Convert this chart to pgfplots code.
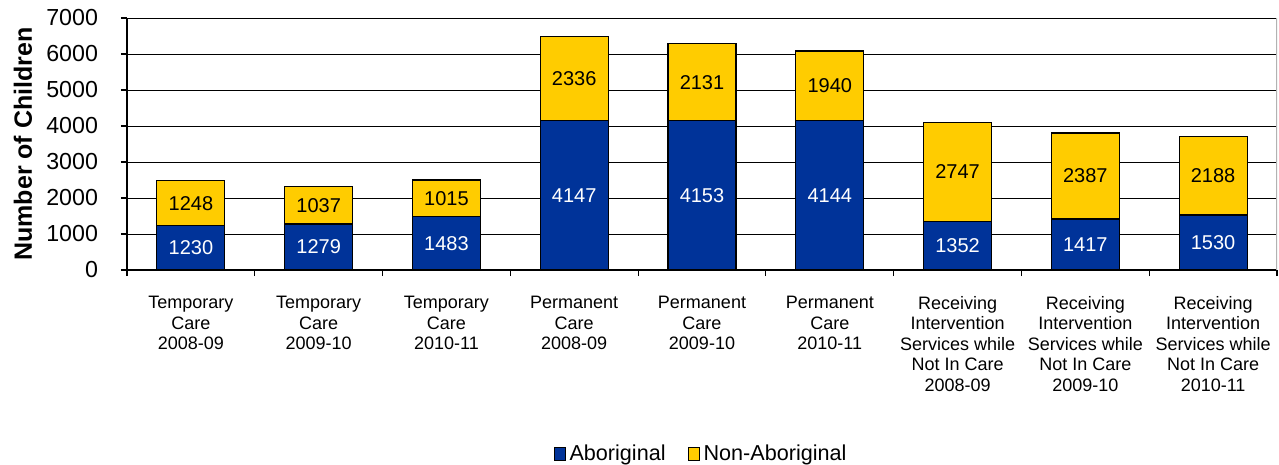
\documentclass[border=0pt]{standalone}
\usepackage{pgfplots}
\pgfplotsset{compat=1.18}
\usepackage{fontspec}
\setmainfont{Liberation Sans}
\definecolor{abo}{RGB}{0,51,153}
\definecolor{nonabo}{RGB}{255,204,0}
\pgfplotsset{base/.style={scale only axis, width=575pt, height=126pt,
  xmin=-0.5, xmax=8.5, ymin=0, ymax=7000}}
\begin{document}
\begin{tikzpicture}
\begin{axis}[
  base,
  ybar stacked, bar width=34pt,
  ytick={0,1000,...,7000},
  xtick={-0.5,0.5,...,8.5},
  xticklabels={},
  extra x ticks={0,1,2,3,4,5,6,7,8},
  extra x tick labels={Temporary\\Care\\2008-09,Temporary\\Care\\2009-10,Temporary\\Care\\2010-11,Permanent\\Care\\2008-09,Permanent\\Care\\2009-10,Permanent\\Care\\2010-11,Receiving\\Intervention\\Services while\\Not In Care\\2008-09,Receiving\\Intervention\\Services while\\Not In Care\\2009-10,Receiving\\Intervention\\Services while\\Not In Care\\2010-11},
  extra x tick style={major tick length=0pt, grid=none},
  xticklabel style={align=center, font=\fontsize{9}{10.3}\selectfont, yshift=-9.5pt},
  yticklabel style={font=\fontsize{11.6}{13}\selectfont, xshift=-8pt},
  /pgf/number format/assume math mode=true,
  /pgf/number format/1000 sep={},
  tick align=outside, major tick length=3pt,
  tick style={black, line width=0.6pt},
  axis x line*=bottom, axis y line*=left,
  axis line style={-, black, line width=0.8pt},
  ymajorgrids, grid style={black, line width=0.5pt},
  ylabel={\bfseries Number of Children},
  ylabel style={font=\fontsize{12.5}{14}\selectfont\bfseries, at={(axis description cs:0,0.5)}, anchor=center, rotate=0, yshift=52pt},
  legend style={at={(0.5,-0.73)}, anchor=center, draw=none,
    legend columns=2, font=\fontsize{10.8}{12}\selectfont,
    /tikz/every even column/.append style={column sep=9pt}},
]
\addplot[fill=abo, draw=black, line width=0.6pt,
  legend image code/.code={\draw[fill=abo,draw=black,line width=0.5pt] (0pt,-3.3pt) rectangle (5.5pt,3.3pt);}]
coordinates {(0,1230) (1,1279) (2,1483) (3,4147) (4,4153) (5,4144) (6,1352) (7,1417) (8,1530)};
\addlegendentry{Aboriginal}
\addplot[fill=nonabo, draw=black, line width=0.6pt,
  legend image code/.code={\draw[fill=nonabo,draw=black,line width=0.5pt] (0pt,-3.3pt) rectangle (5.5pt,3.3pt);}]
coordinates {(0,1248) (1,1037) (2,1015) (3,2336) (4,2131) (5,1940) (6,2747) (7,2387) (8,2188)};
\addlegendentry{Non-Aboriginal}
\draw[gray!60, line width=0.8pt] (rel axis cs:1,0) -- (rel axis cs:1,1);
\end{axis}
% data labels, centred in each segment
\begin{axis}[base, hide axis, clip=false]
\addplot[only marks, mark=none, point meta=explicit symbolic, nodes near coords,
  every node near coord/.style={anchor=center, text=white, font=\fontsize{10}{12}\selectfont}]
coordinates {(0,615)[1230] (1,639.5)[1279] (2,741.5)[1483] (3,2073.5)[4147] (4,2076.5)[4153] (5,2072)[4144] (6,676)[1352] (7,708.5)[1417] (8,765)[1530]};
\addplot[only marks, mark=none, point meta=explicit symbolic, nodes near coords,
  every node near coord/.style={anchor=center, text=black, font=\fontsize{10}{12}\selectfont}]
coordinates {(0,1854)[1248] (1,1797.5)[1037] (2,1990.5)[1015] (3,5315)[2336] (4,5218.5)[2131] (5,5114)[1940] (6,2725.5)[2747] (7,2610.5)[2387] (8,2624)[2188]};
\coordinate (BL) at (axis description cs:0,0);
\coordinate (TR) at (axis description cs:1,1);
\end{axis}
\pgfresetboundingbox
\path ([xshift=-63.5pt,yshift=-97.5pt]BL) rectangle ([xshift=1pt,yshift=9pt]TR);
\end{tikzpicture}
\end{document}
